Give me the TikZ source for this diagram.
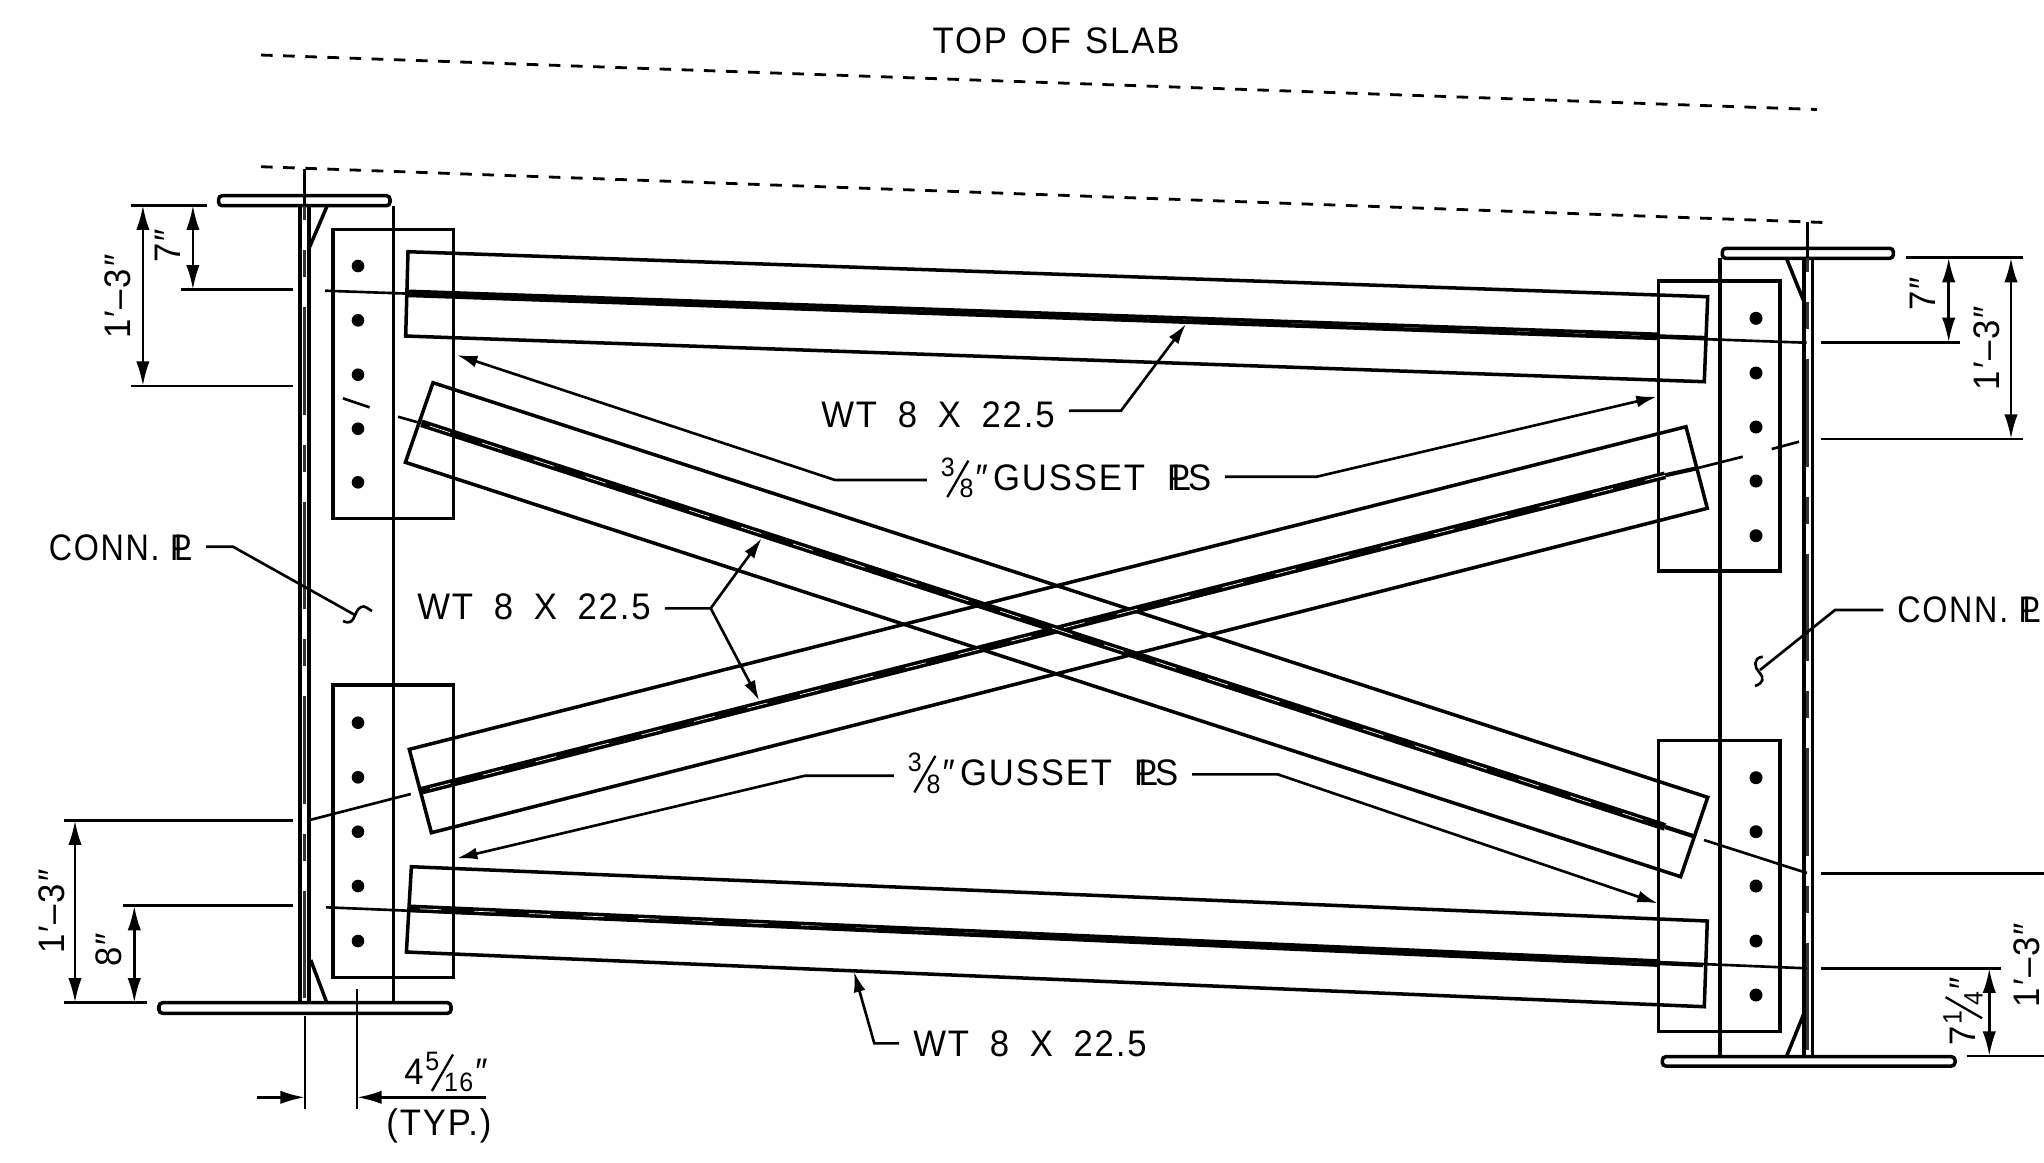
\documentclass[tikz,border=0pt]{standalone}
\usepackage{fontspec}
\usepackage{graphicx}
\usepackage{tikz}
\usetikzlibrary{arrows.meta}
\setmainfont[FakeStretch=0.94,LetterSpace=5]{Liberation Sans}

\newcommand{\platesym}{\rlap{P}\kern.12em L}
\newcommand{\slashfrac}[2]{\raisebox{4pt}{\scalebox{.72}{#1}}\kern-2.4pt\raisebox{-2pt}{\rotatebox{60}{\rule{12pt}{.65pt}}}\kern-2.8pt\raisebox{-2pt}{\scalebox{.72}{#2}}}
\newcommand{\wtsize}{WT\hspace{.56em}8\hspace{.56em}X\hspace{.56em}22.5}
\newcommand{\gussetname}{\slashfrac{3}{8}\kern.6pt″\kern1.5pt GUSSET\hspace{.6em}\platesym\kern-.08em S}
\newcommand{\connname}{\scalebox{.93}[1]{CONN.\hspace{.3em}\platesym}}

\begin{document}
\begin{tikzpicture}[x=0.01cm,y=-0.01cm,
        line width=1pt,
        thinline/.style={line width=0.75pt},
        slabline/.style={line width=0.8pt, dash pattern=on 3.3pt off 3pt},
        cent/.style={line width=0.85pt, color=black!80, dash pattern=on 30.6pt off 8.5pt on 7.7pt off 8.5pt, dash phase=26.5pt},
        stem/.style={line width=2.2pt},
        stemend/.style={line width=1.2pt},
        stemgap/.style={line width=0.2pt, color=white, dash pattern=on 6pt off 9.5pt},
        dim/.style={thinline, {Latex[length=7pt,width=3.8pt]}-{Latex[length=7pt,width=3.8pt]}},
        dimone/.style={thinline, -{Latex[length=7pt,width=3.8pt]}},
        lead/.style={thinline, -{Latex[length=5.8pt,width=3.4pt]}},
        txt/.style={font=\fontsize{10.5pt}{12pt}\selectfont, inner xsep=3.5pt, inner ysep=0pt}]
    \useasboundingbox (0,0) rectangle (2044,1162);

    % Slab lines
    \draw[slabline] (261,55) -- (1817,109.5);
    \draw[slabline] (261,166.7) -- (1830,222.7);
    \node[txt] (slab) at (1056,40.7) {TOP\hspace{.38em}OF\hspace{.38em}SLAB};

    % Left girder
    \draw[rounded corners=1pt] (218.6,205.7) rectangle (390,195.7);
    \draw (300,206) -- (300,1003);
    \draw (309,206) -- (309,1003);
    \draw[cent] (304.6,206) -- (304.6,1003);
    \draw[thinline] (304.6,169) -- (304.6,206);
    \draw (393.6,206) -- (393.6,1003);
    \draw (326.8,206.7) -- (309,248.3);
    \draw (310.7,960) -- (326.8,1002.7);
    \draw[rounded corners=1pt] (159,1002.7) rectangle (451,1013.3);

    % Right girder
    \draw[rounded corners=1pt] (1722.3,258.3) rectangle (1893.3,248.3);
    \draw (1804,258) -- (1804,1056);
    \draw (1812.3,258) -- (1812.3,1056);
    \draw[cent] (1807.7,258) -- (1807.7,1056);
    \draw[thinline] (1807.7,221.7) -- (1807.7,258);
    \draw (1720,258) -- (1720,1056);
    \draw (1786.7,259) -- (1804,301.7);
    \draw (1786.7,1056) -- (1804,1013.3);
    \draw[rounded corners=1pt] (1662.3,1056.7) rectangle (1955,1066);

    % Gusset plates and bolts
    \draw (333,229.3) rectangle (453.6,518.3);
    \draw (333,685) rectangle (453.6,977.3);
    \draw (1658.7,281) rectangle (1780,571);
    \draw (1658.7,740.7) rectangle (1780,1031.7);
    \foreach \y in {266,320.3,374.7,428.7,482.3,722.7,777.3,831.7,886,941}
        \fill (358,\y) circle[radius=6.3];
    \foreach \y in {318.3,373,427,481,535.7,777.7,831.7,886,941,995}
        \fill (1756,\y) circle[radius=6.5];

    % Top and bottom tees
    \draw (408,251.7) -- (1707.7,296.7) -- (1704.3,381.7) -- (405.7,336) -- cycle;
    \draw (411.4,866.7) -- (1707.3,921) -- (1704.3,1006.7) -- (406.4,952) -- cycle;
    \draw[stem] (407,293.3) -- (1660,336.4);
    \draw[stem] (409,908.3) -- (1660,963.1);
    \draw[stemend] (1660,336.4) -- (1706.7,338);
    \draw[stemend] (1660,963.1) -- (1703,965);
    \draw[stemgap] (420,293.8) -- (1660,336.4);
    \draw[stemgap] (420,908.8) -- (1660,963.1);
    \draw[thinline] (325,290.7) -- (1806.7,342.7);
    \draw[thinline] (326,907.3) -- (1806.7,968.3);

    % Diagonal tees
    \draw (433,382.7) -- (1707.7,797.3) -- (1680.7,876.7) -- (405.4,462.3) -- cycle;
    \draw (409.3,749.3) -- (1686,426.7) -- (1707.3,508.3) -- (431.4,832.7) -- cycle;
    \draw[stem] (421.4,423.3) -- (1665,826.9);
    \draw[stem] (421.4,790.7) -- (1665,475.3);
    \draw[stemend] (1665,826.9) -- (1693,836);
    \draw[stemend] (1665,475.3) -- (1696.7,468.3);
    \draw[stemgap] (430,426.1) -- (1665,826.9);
    \draw[stemgap] (430,788.5) -- (1665,475.3);
    \draw[thinline] (398,416.7) -- (421.4,423.3);
    \draw[thinline] (369.6,407.3) -- (342.9,398.3);
    \draw[thinline] (1704,840) -- (1807,873);
    \draw[thinline] (410.7,794) -- (307,820.7);
    \draw[thinline] (1696.7,468.3) -- (1742.7,456.7);
    \draw[thinline] (1771.7,449) -- (1799,441.7);

    % Dimensions, upper left
    \draw[thinline] (131,205.3) -- (207,205.3);
    \draw[thinline] (180.7,289.7) -- (293,289.7);
    \draw[thinline] (131,386) -- (293,386);
    \draw[dim] (142.9,205.3) -- (142.9,386);
    \draw[dim] (192.9,205.3) -- (192.9,289.7);
    \node[txt, rotate=90] (dla) at (118,296.7) {1′–3″};
    \node[txt, rotate=90] (dlb) at (168,246) {7″};

    % Dimensions, lower left
    \draw[thinline] (63.6,820.3) -- (293,820.3);
    \draw[thinline] (122.5,905.7) -- (293,905.7);
    \draw[thinline] (63.6,1002.7) -- (147,1002.7);
    \draw[dim] (75,820.3) -- (75,1002.7);
    \draw[dim] (134.3,905.7) -- (134.3,1002.7);
    \node[txt, rotate=90] (dlc) at (52,911.7) {1′–3″};
    \node[txt, rotate=90] (dld) at (109,950) {8″};

    % Bolt gage
    \draw[thinline] (305,1015.7) -- (305,1109);
    \draw[thinline] (357,989) -- (357,1109);
    \draw[dimone] (257,1097.3) -- (305,1097.3);
    \draw[dimone] (485.7,1097.3) -- (357,1097.3);
    \node[txt] (gag) at (446,1072) {4\kern.5pt\slashfrac{5}{16}\kern.6pt″};
    \node[txt] (typ) at (439,1126) {(TYP.)};

    % Dimensions, upper right
    \draw[thinline] (1905.7,257.7) -- (2022.7,257.7);
    \draw[thinline] (1820.7,342.3) -- (1960,342.3);
    \draw[thinline] (1820.7,439) -- (2022.7,439);
    \draw[dim] (1948.7,257.7) -- (1948.7,342.3);
    \draw[dim] (2011,257.7) -- (2011,439);
    \node[txt, rotate=90] (dra) at (1923,294) {7″};
    \node[txt, rotate=90] (drb) at (1986.7,348) {1′–3″};

    % Dimensions, lower right
    \draw[thinline] (1820.7,873.7) -- (2044,873.7);
    \draw[thinline] (1820.7,968.3) -- (2001,968.3);
    \draw[thinline] (1966.7,1056) -- (2044,1056);
    \draw[dim] (1989.3,968.3) -- (1989.3,1056);
    \node[txt, rotate=90] (drc) at (1963,1011.7) {7\kern.5pt\slashfrac{1}{4}\kern.6pt″};
    \node[txt, rotate=90] (drd) at (2026.7,965) {1′–3″};

    % Member labels
    \node[txt] (wta) at (938,415) {\wtsize};
    \coordinate (wtak) at (1121,410.7);
    \coordinate (wtat) at (1186,324);
    \draw[lead] (wta.east |- wtak) -- (wtak) -- (wtat);

    \node[txt] (wtb) at (534,606.7) {\wtsize};
    \coordinate (wtbk) at (710.7,608.3);
    \coordinate (wtbt) at (761.7,538.3);
    \coordinate (wtbu) at (759.3,700.7);
    \draw[lead] (wtb.east |- wtbk) -- (wtbk) -- (wtbt);
    \draw[lead] (wtbk) -- (wtbu);

    \node[txt] (wtc) at (1030,1044) {\wtsize};
    \coordinate (wtck) at (874.3,1043.3);
    \coordinate (wtct) at (854,971.7);
    \draw[lead] (wtc.west |- wtck) -- (wtck) -- (wtct);

    % Gusset labels
    \node[txt] (gsa) at (1076,478) {\gussetname};
    \coordinate (gsal) at (835,480);
    \coordinate (gsalt) at (457,355);
    \coordinate (gsar) at (1316.7,476.7);
    \coordinate (gsart) at (1656.7,396.7);
    \draw[lead] (gsa.west |- gsal) -- (gsal) -- (gsalt);
    \draw[lead] (gsa.east |- gsar) -- (gsar) -- (gsart);

    \node[txt] (gsb) at (1043,773.3) {\gussetname};
    \coordinate (gsbl) at (805,775.7);
    \coordinate (gsblt) at (457,858.3);
    \coordinate (gsbr) at (1277.6,774.3);
    \coordinate (gsbrt) at (1657.7,903.3);
    \draw[lead] (gsb.west |- gsbl) -- (gsbl) -- (gsblt);
    \draw[lead] (gsb.east |- gsbr) -- (gsbr) -- (gsbrt);

    % Connection plate labels
    \node[txt] (cpa) at (120.5,548) {\connname};
    \coordinate (cpak) at (233,546.7);
    \coordinate (cpat) at (355,615);
    \draw[thinline] (cpa.east |- cpak) -- (cpak) -- (cpat);
    \draw[thinline] (343,621) .. controls (356,627) and (353,611) .. (361,607) .. controls (365,605) and (368,609) .. (372,611);

    \node[txt] (cpb) at (1969,610) {\connname};
    \coordinate (cpbk) at (1835,610);
    \coordinate (cpbt) at (1760,670);
    \draw[thinline] (cpb.west |- cpbk) -- (cpbk) -- (cpbt);
    \draw[thinline] (1762.7,656.7) .. controls (1752,658) and (1755,668) .. (1759,672) .. controls (1765,679) and (1763,683) .. (1755,686);
\end{tikzpicture}
\end{document}
